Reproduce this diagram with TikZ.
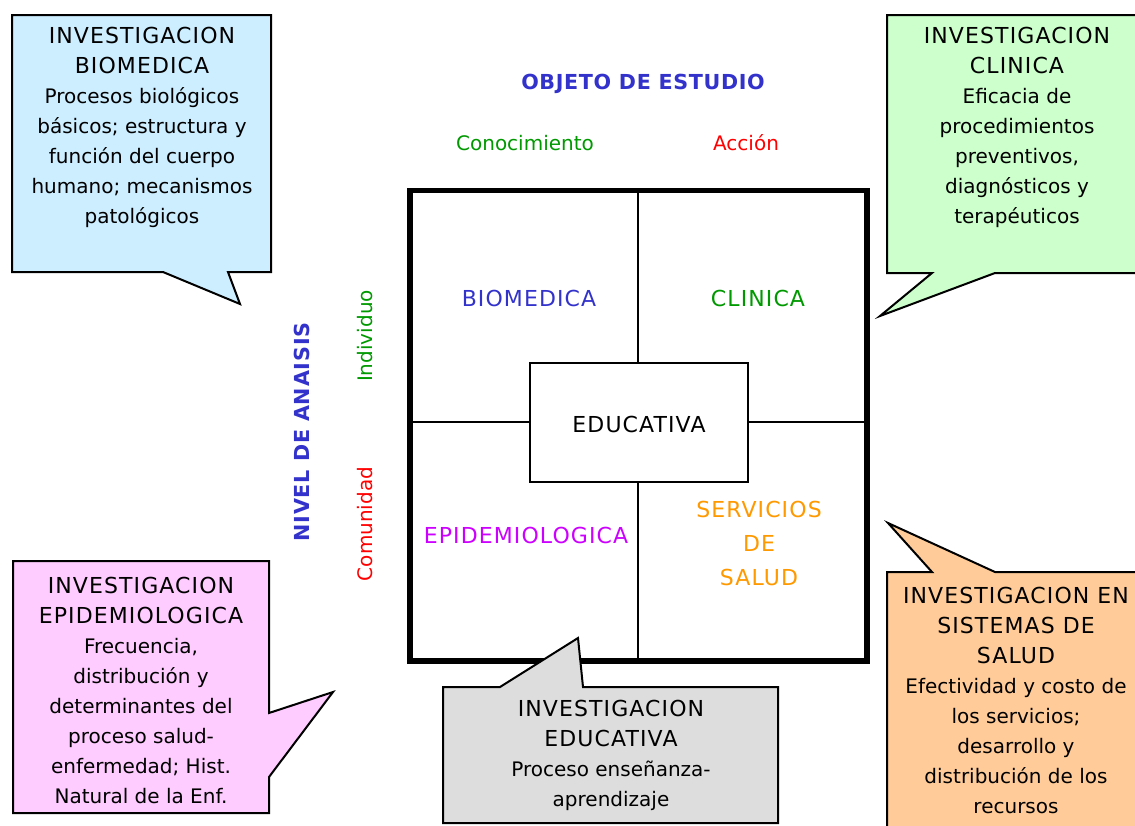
\documentclass[tikz,border=0pt]{standalone}
\usepackage{fontspec}
\setmainfont{DejaVu Sans}
\newcommand\cp[1]{{\fontsize{16.5}{22.5}\selectfont\addfontfeatures{LetterSpace=5}#1}}
\definecolor{cblue}{HTML}{3333CC}
\definecolor{cgreen}{HTML}{009900}
\definecolor{cred}{HTML}{FF0000}
\definecolor{cmag}{HTML}{CC00FF}
\definecolor{corange}{HTML}{FF9900}
\definecolor{fblue}{HTML}{CCEEFF}
\definecolor{fgreen}{HTML}{CCFFCC}
\definecolor{fpink}{HTML}{FFCCFF}
\definecolor{fgray}{HTML}{DDDDDD}
\definecolor{forange}{HTML}{FFCC99}
\begin{document}
\begin{tikzpicture}[x=0.75pt,y=-0.75pt,
  txt/.style={inner sep=0pt,align=center,font=\fontsize{15}{22.5}\selectfont},
  callout/.style={draw=black,line width=1.5pt,line join=miter},
  thin/.style={draw=black,line width=1.5pt}]
\clip (0,0) rectangle (1135,825);
\fill[white] (0,0) rectangle (1135,825);

% main square
\coordinate (TL) at (410,190.5);
\coordinate (BR) at (867,661);
\node[draw=black,line width=1.5pt,inner sep=0pt,
      minimum width=163.5pt,minimum height=89.25pt] (edu) at (638.5,422.5) {};
\coordinate (topmid) at (638,190.5);
\coordinate (botmid) at (638,661);
\coordinate (leftmid) at (410,422);
\coordinate (rightmid) at (867,422);
\draw[thin] (topmid) -- (edu.north -| topmid);
\draw[thin] (botmid) -- (edu.south -| botmid);
\draw[thin] (leftmid) -- (edu.west |- leftmid);
\draw[thin] (rightmid) -- (edu.east |- rightmid);
\draw[line width=4.2pt] (TL) rectangle (BR);

\node[txt] (educ) at (639,424) {\cp{EDUCATIVA}};
\node[txt,text=cblue] (biom) at (529,298) {\cp{BIOMEDICA}};
\node[txt,text=cgreen] (clin) at (758,298) {\cp{CLINICA}};
\node[txt,text=cmag] (epid) at (526,535) {\cp{EPIDEMIOLOGICA}};
\node[txt,text=corange,font=\fontsize{15}{24}\selectfont] (serv) at (759,543) {\cp{SERVICIOS}\\[1.5pt]\cp{DE}\\[1.5pt]\cp{SALUD}};

\node[txt,text=cblue,font=\fontsize{15.5}{18}\selectfont\bfseries\addfontfeatures{LetterSpace=3}] (objeto) at (643,84) {OBJETO DE ESTUDIO};
\node[txt,text=cgreen] (cono) at (525,143) {Conocimiento};
\node[txt,text=cred] (accion) at (746,143) {Acción};
\node[txt,text=cblue,rotate=90,font=\fontsize{15.5}{18}\selectfont\bfseries\addfontfeatures{LetterSpace=4}] (nivel) at (302,432) {NIVEL DE ANAISIS};
\node[txt,text=cgreen,rotate=90] (indiv) at (365,336) {Individuo};
\node[txt,text=cred,rotate=90] (comun) at (365,524) {Comunidad};

% callouts
\draw[callout,fill=fblue] (12,15) -- (271,15) -- (271,272) -- (228,272) -- (240,304) -- (163,272) -- (12,272) -- cycle;
\node[txt] (cbio) at (142,127) {\cp{INVESTIGACION}\\\cp{BIOMEDICA}\\Procesos biológicos\\básicos; estructura y\\función del cuerpo\\humano; mecanismos\\patológicos};

\draw[callout,fill=fgreen] (887,15) -- (1145,15) -- (1145,273) -- (995,273) -- (880,316) -- (932,273) -- (887,273) -- cycle;
\node[txt] (ccli) at (1017,127) {\cp{INVESTIGACION}\\\cp{CLINICA}\\Eficacia de\\procedimientos\\preventivos,\\diagnósticos y\\terapéuticos};

\draw[callout,fill=fpink] (13,561) -- (269,561) -- (269,713) -- (333,692) -- (269,777) -- (269,813) -- (13,813) -- cycle;
\node[txt] (cepi) at (141,690) {\cp{INVESTIGACION}\\\cp{EPIDEMIOLOGICA}\\Frecuencia,\\distribución y\\determinantes del\\proceso salud-\\enfermedad; Hist.\\Natural de la Enf.};

\draw[callout,fill=fgray] (443,687) -- (500,687) -- (578,638) -- (583,687) -- (778,687) -- (778,823) -- (443,823) -- cycle;
\node[txt] (cedu) at (611,755) {\cp{INVESTIGACION}\\\cp{EDUCATIVA}\\Proceso enseñanza-\\aprendizaje};

\draw[callout,fill=forange] (887,572) -- (932,572) -- (888,523) -- (995,572) -- (1145,572) -- (1145,835) -- (887,835) -- cycle;
\node[txt] (csis) at (1016,700) {\cp{INVESTIGACION EN}\\\cp{SISTEMAS DE}\\\cp{SALUD}\\Efectividad y costo de\\los servicios;\\desarrollo y\\distribución de los\\recursos};
\end{tikzpicture}
\end{document}
